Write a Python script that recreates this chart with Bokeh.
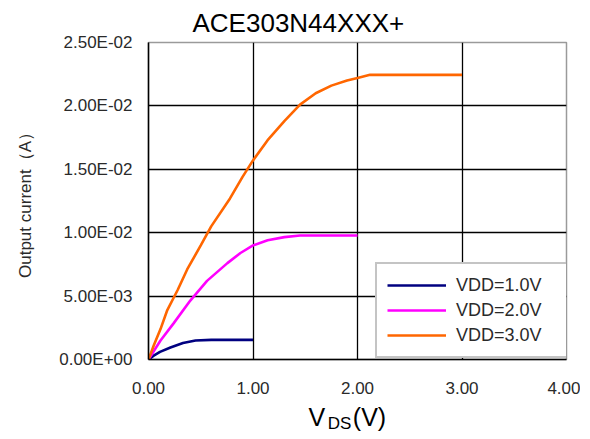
from bokeh.plotting import figure
from bokeh.models import (Range1d, FixedTicker, Legend, LegendItem, Title, LinearAxis)
from bokeh.embed import file_html
from bokeh.resources import INLINE

# ---------------- data ----------------
title_text = "ACE303N44XXX+"
y_axis_title = "Output current（A）"
x_axis_main = "V"
x_axis_sub = "DS"
x_axis_unit = "(V)"

series_names = ["VDD=1.0V", "VDD=2.0V", "VDD=3.0V"]
series_colors = ["#000080", "#FF00FF", "#FF6600"]

vds_1 = [0.0, 0.05, 0.11, 0.21, 0.33, 0.45, 0.6, 0.8, 1.0]
id_1 = [0.0, 0.30e-3, 0.60e-3, 0.95e-3, 1.30e-3, 1.50e-3, 1.55e-3, 1.55e-3, 1.55e-3]

vds_2 = [0.0, 0.115, 0.24, 0.40, 0.56, 0.755, 0.88, 1.0, 1.14, 1.30, 1.45, 1.70, 2.0]
id_2 = [0.0, 1.5e-3, 2.85e-3, 4.65e-3, 6.2e-3, 7.6e-3, 8.4e-3, 9.0e-3, 9.4e-3,
        9.65e-3, 9.78e-3, 9.78e-3, 9.78e-3]

vds_3 = [0.0, 0.05, 0.115, 0.18, 0.28, 0.37, 0.50, 0.60, 0.78, 0.90, 1.0, 1.14, 1.30,
         1.45, 1.60, 1.75, 1.90, 2.0, 2.12, 3.0]
id_3 = [0.0, 1.1e-3, 2.4e-3, 3.9e-3, 5.5e-3, 7.1e-3, 9.0e-3, 10.5e-3, 12.7e-3, 14.4e-3,
        15.7e-3, 17.3e-3, 18.8e-3, 20.1e-3, 21.0e-3, 21.6e-3, 22.0e-3, 22.2e-3, 22.45e-3,
        22.45e-3]

x_ticks = [0.0, 1.0, 2.0, 3.0, 4.0]
x_tick_labels = ["0.00", "1.00", "2.00", "3.00", "4.00"]
y_ticks = [0.0, 0.005, 0.010, 0.015, 0.020, 0.025]
y_tick_labels = ["0.00E+00", "5.00E-03", "1.00E-02", "1.50E-02", "2.00E-02", "2.50E-02"]

# ---------------- figure ----------------
FONT = "Liberation Sans"
TXT = "#2a2a2a"

p = figure(width=580, height=435, output_backend="svg", toolbar_location=None,
           x_range=Range1d(x_ticks[0], x_ticks[-1]), y_range=Range1d(y_ticks[0], y_ticks[-1]),
           min_border_left=148, min_border_right=14, min_border_top=42, min_border_bottom=60)
p.title = Title(text=title_text, align="left", offset=44, standoff=10,
                text_font=FONT, text_font_size="26px", text_font_style="normal",
                text_color="black")
p.background_fill_color = "white"
p.border_fill_color = "white"
p.outline_line_color = "#9a9a9a"
p.outline_line_width = 1.5

# grids
p.xgrid.ticker = FixedTicker(ticks=x_ticks[1:-1])
p.ygrid.ticker = FixedTicker(ticks=y_ticks[1:-1])
for g in (p.xgrid, p.ygrid):
    g.grid_line_color = "black"
    g.grid_line_width = 1.3

# axes
p.xaxis.ticker = FixedTicker(ticks=x_ticks)
p.xaxis.major_label_overrides = dict(zip(x_ticks, x_tick_labels))
p.yaxis.ticker = FixedTicker(ticks=y_ticks)
p.yaxis.major_label_overrides = dict(zip(y_ticks, y_tick_labels))
for ax in (p.xaxis, p.yaxis):
    ax.axis_line_color = "black"
    ax.axis_line_width = 1.5
    ax.major_tick_out = 0
    ax.major_tick_in = 0
    ax.minor_tick_out = 0
    ax.minor_tick_in = 0
    ax.major_label_text_font = FONT
    ax.major_label_text_font_size = "17px"
    ax.major_label_text_color = TXT
p.xaxis.major_label_standoff = 22
p.yaxis.major_label_standoff = 16

p.yaxis.axis_label = y_axis_title
p.yaxis.axis_label_text_font = FONT
p.yaxis.axis_label_text_font_size = "17px"
p.yaxis.axis_label_text_font_style = "normal"
p.yaxis.axis_label_text_color = TXT
p.yaxis.axis_label_standoff = 21

# x axis title V_DS(V): written as labels of two extra, line-less axes below
pos_main, pos_sub, pos_unit = 1.612, 1.828, 2.115


def text_axis(ticks, labels, size, standoff):
    ax = LinearAxis(ticker=FixedTicker(ticks=ticks),
                    major_label_overrides=dict(zip(ticks, labels)),
                    axis_line_color=None, major_tick_line_color=None,
                    minor_tick_line_color=None, major_tick_out=0, major_tick_in=0,
                    minor_tick_out=0, minor_tick_in=0,
                    major_label_standoff=standoff,
                    major_label_text_font=FONT, major_label_text_font_size=size,
                    major_label_text_color="black")
    p.add_layout(ax, "below")
    return ax


text_axis([pos_main, pos_unit], [x_axis_main, x_axis_unit], "25px", 6)
text_axis([pos_sub], [x_axis_sub], "17px", -20)

# lines
renderers = []
for xs, ys, c in ((vds_1, id_1, series_colors[0]),
                  (vds_2, id_2, series_colors[1]),
                  (vds_3, id_3, series_colors[2])):
    r = p.line(xs, ys, line_color=c, line_width=2.6)
    renderers.append(r)

legend = Legend(items=[LegendItem(label=n, renderers=[r]) for n, r in zip(series_names, renderers)],
                location=(227, 1), orientation="vertical",
                padding=10, spacing=3, margin=0,
                glyph_width=59, glyph_height=22, label_height=22, label_width=114,
                label_standoff=10,
                label_text_font=FONT, label_text_font_size="18px", label_text_color=TXT,
                border_line_color="#8a8a8a", border_line_width=2,
                background_fill_color="white", background_fill_alpha=1.0)
p.add_layout(legend, "center")

open("out.html", "w").write(file_html(p, INLINE))
